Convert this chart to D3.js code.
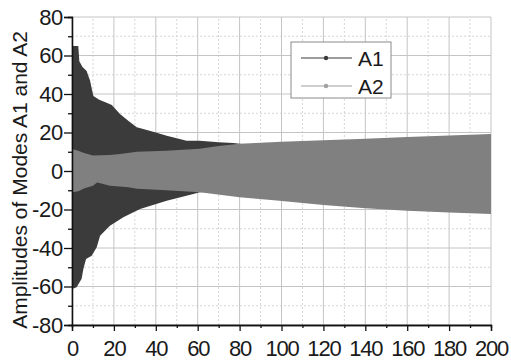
<!DOCTYPE html>
<html>
<head>
<meta charset="utf-8">
<script src="https://cdn.jsdelivr.net/npm/d3@7"></script>
<style>
  html, body { margin: 0; padding: 0; background: #fff; }
  svg { display: block; font-family: "Liberation Sans", Arial, sans-serif; }
</style>
</head>
<body>
<svg id="chart" width="511" height="363"></svg>
<script>
// Envelopes of the two modal amplitudes (time on x, amplitude on y)
const a1UpperT = [0, 3, 3.5, 5, 7, 7.6, 8.6, 10.2, 13, 16.5, 19, 22.9, 27, 30.9, 34, 40, 45.2, 50, 54.7, 61, 70, 77, 85, 100, 150, 200];
const a1UpperV = [65, 65, 57, 54, 52, 50, 47, 39, 37, 35.5, 34.3, 29.6, 26, 22.7, 21.8, 20, 18.3, 17, 15.7, 15.7, 15, 14.5, 13.5, 12.5, 11, 9];
const a1LowerT = [0, 2.2, 4.6, 5.4, 6.7, 9.4, 11.8, 13.4, 18.1, 24.5, 32.5, 45.2, 57.9, 61, 70, 100, 200];
const a1LowerV = [-61.3, -60.4, -56, -51, -45.7, -44, -39.6, -33.6, -28.4, -24, -19.7, -15.4, -12, -11, -10.5, -10, -8];

const a2UpperT = [0, 3, 5.4, 10, 18, 23, 31, 45, 61, 70, 80, 100, 120, 140, 160, 180, 200];
const a2UpperV = [11.4, 10.5, 9.5, 8, 8.3, 8.8, 10, 10.5, 11.5, 13, 14.2, 15.2, 16, 16.8, 17.6, 18.4, 19.2];
const a2LowerT = [0, 3, 6, 10, 12, 14, 18, 27, 31, 45, 61, 80, 99, 120, 140, 160, 180, 200];
const a2LowerV = [-11, -10.5, -9, -7.6, -6, -6.5, -7.6, -8.5, -9.2, -10, -11, -13.7, -15.4, -17.7, -19.4, -20.6, -21.5, -22.3];

const xMajor = [0, 20, 40, 60, 80, 100, 120, 140, 160, 180, 200];
const yMajor = [-80, -60, -40, -20, 0, 20, 40, 60, 80];
const xMinor = d3.range(10, 200, 20);
const yMinor = d3.range(-70, 80, 20);

const seriesNames = ["A1", "A2"];
const seriesFill = ["#3b3b3b", "#808080"];
const legendLine = ["#3a3a3a", "#a0a0a0"];

const svg = d3.select("#chart");
const W = 511, H = 363;
const m = { left: 72, right: 20, top: 17, bottom: 38 };

const x = d3.scaleLinear().domain([0, 200]).range([m.left, W - m.right]);
const y = d3.scaleLinear().domain([-80, 80]).range([H - m.bottom, m.top]);

// Grid: dotted minor lines under solid major lines
const grid = svg.append("g");
grid.selectAll(".vmin").data(xMinor).join("line")
  .attr("x1", d => x(d)).attr("x2", d => x(d)).attr("y1", y(-80)).attr("y2", y(80))
  .attr("stroke", "#d6d6d6").attr("stroke-dasharray", "2,2");
grid.selectAll(".hmin").data(yMinor).join("line")
  .attr("y1", d => y(d)).attr("y2", d => y(d)).attr("x1", x(0)).attr("x2", x(200))
  .attr("stroke", "#d6d6d6").attr("stroke-dasharray", "2,2");
grid.selectAll(".vmaj").data(xMajor).join("line")
  .attr("x1", d => x(d)).attr("x2", d => x(d)).attr("y1", y(-80)).attr("y2", y(80))
  .attr("stroke", "#c4c4c4");
grid.selectAll(".hmaj").data(yMajor).join("line")
  .attr("y1", d => y(d)).attr("y2", d => y(d)).attr("x1", x(0)).attr("x2", x(200))
  .attr("stroke", "#c4c4c4");

// Build a closed band from an upper and a lower envelope
function band(upT, upV, loT, loV) {
  const up = upT.map((t, i) => [x(t), y(upV[i])]);
  const lo = loT.map((t, i) => [x(t), y(loV[i])]).reverse();
  return d3.line()(up.concat(lo)) + "Z";
}

svg.append("defs").append("clipPath").attr("id", "plot")
  .append("rect").attr("x", x(0)).attr("y", y(80)).attr("width", x(200) - x(0)).attr("height", y(-80) - y(80));

const bands = svg.append("g").attr("clip-path", "url(#plot)");
bands.append("path").attr("d", band(a1UpperT, a1UpperV, a1LowerT, a1LowerV)).attr("fill", seriesFill[0]);
bands.append("path").attr("d", band(a2UpperT, a2UpperV, a2LowerT, a2LowerV)).attr("fill", seriesFill[1]);

// Axes
const fmt = d => String(d);
const yAxis = svg.append("g").attr("transform", `translate(${x(0)},0)`)
  .call(d3.axisLeft(y).tickValues(yMajor).tickSize(8).tickPadding(1).tickFormat(fmt));
const yMinorAxis = svg.append("g").attr("transform", `translate(${x(0)},0)`)
  .call(d3.axisLeft(y).tickValues(yMinor).tickSize(4).tickFormat(""));
const xAxis = svg.append("g").attr("transform", `translate(0,${y(-80)})`)
  .call(d3.axisBottom(x).tickValues(xMajor).tickSize(6).tickPadding(9).tickFormat(fmt));
const xMinorAxis = svg.append("g").attr("transform", `translate(0,${y(-80)})`)
  .call(d3.axisBottom(x).tickValues(xMinor).tickSize(3).tickFormat(""));

[yAxis, yMinorAxis, xAxis, xMinorAxis].forEach(g => {
  g.select(".domain").attr("stroke", "#111").attr("stroke-width", 1.3);
  g.selectAll(".tick line").attr("stroke", "#111").attr("stroke-width", 1.3);
  g.selectAll("text").attr("font-size", 22).attr("fill", "#1a1a1a")
    .attr("font-family", "'Liberation Sans', Arial, sans-serif");
});
xAxis.selectAll("text").attr("letter-spacing", "-1.2px");
yAxis.selectAll("text").attr("letter-spacing", "-0.3px");

// Axis title
svg.append("text")
  .attr("transform", `translate(27,${(y(80) + y(-80)) / 2 + 9}) rotate(-90)`)
  .attr("text-anchor", "middle")
  .attr("font-size", 21).attr("fill", "#1a1a1a")
  .text("Amplitudes of Modes A1 and A2");

// Legend
const lg = svg.append("g").attr("transform", "translate(291,42)");
lg.append("rect").attr("width", 100).attr("height", 56)
  .attr("fill", "#fff").attr("stroke", "#8a8a8a").attr("stroke-width", 1);
seriesNames.forEach((name, i) => {
  const cy = 16 + i * 28;
  lg.append("line").attr("x1", 10).attr("x2", 61).attr("y1", cy).attr("y2", cy)
    .attr("stroke", legendLine[i]).attr("stroke-width", 1.2);
  lg.append("circle").attr("cx", 35).attr("cy", cy).attr("r", 2.2).attr("fill", legendLine[i]);
  lg.append("text").attr("x", 67).attr("y", cy + 8).attr("font-size", 21)
    .attr("fill", "#1a1a1a").text(name);
});
</script>
</body>
</html>
